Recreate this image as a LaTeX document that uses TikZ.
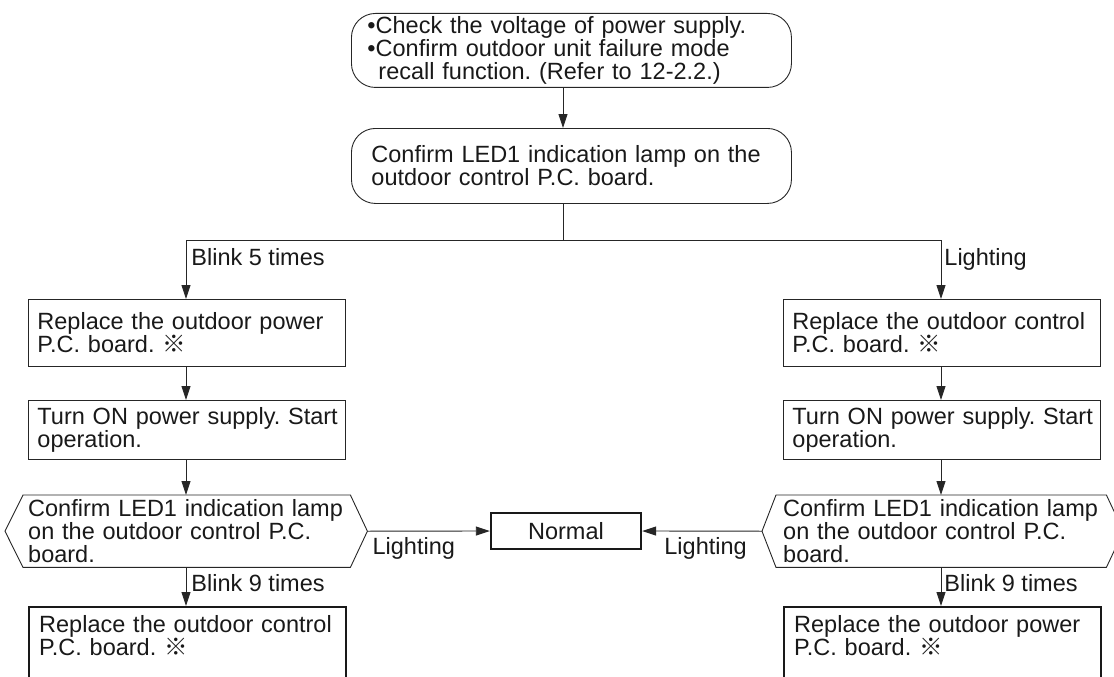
\documentclass[tikz,border=0pt]{standalone}
\usepackage{fontspec}
\setmainfont{Liberation Sans}
\newfontfamily\cjkfont{Noto Sans CJK JP}
\usetikzlibrary{arrows.meta,calc}
\newcommand{\refmark}{\smash{\cjkfont ※}}
\frenchspacing
\begin{document}
\begin{tikzpicture}[x=1pt,y=-1pt,
  txt/.style={font=\fontsize{23.5}{23}\selectfont\frenchspacing, text=black!90},
  thinl/.style={line width=0.9pt, draw=black!85},
  stepbox/.style={txt, thinl, draw, rectangle, anchor=north west, text width=299pt, inner xsep=9pt, inner ysep=0pt, minimum height=#1, align=left},
  thickbox/.style={txt, draw=black!90, line width=2.4pt, rectangle, anchor=north west, text width=297pt, inner xsep=10pt, inner ysep=8pt, align=left},
  roundbox/.style={txt, thinl, draw, rectangle, rounded corners=24pt, anchor=north west, inner ysep=0pt, minimum height=#1, align=left},
  hexbox/.style={txt, rectangle, anchor=north west, inner ysep=0pt, minimum height=72pt, align=left},
  arr/.style={thinl, -{Triangle[length=14pt,width=9pt]}},
  lbl/.style={txt, inner sep=0pt}
]
\useasboundingbox (0,0) rectangle (1114,677);
\clip (0,0) rectangle (1114,677);

% top boxes
\node[roundbox=74pt, text width=408pt, inner xsep=16pt] (top) at (351,13)
  {\mbox{•Check the voltage of power supply.}\\\mbox{•Confirm outdoor unit failure mode}\\\hspace*{11pt}\mbox{recall function. (Refer to 12-2.2.)}};
\node[roundbox=75pt, text width=400pt, inner xsep=20pt] (conf) at (351,128)
  {\mbox{Confirm LED1 indication lamp on the}\\\mbox{outdoor control P.C. board.}};

\draw[arr] (top.south -| 563,0) -- (conf.north -| 563,0);
\coordinate (split) at (563,240);
\coordinate (splitL) at (186,240);
\coordinate (splitR) at (941,240);
\draw[thinl] (conf.south -| split) -- (split);
\draw[thinl] (splitL) -- (splitR);

% left column
\node[stepbox=67pt] (L1) at (28,299) {\mbox{Replace the outdoor power}\\P.C. board. \refmark};
\node[stepbox=59pt] (L2) at (28,400) {\mbox{Turn ON power supply. Start}\\operation.};
\node[hexbox, text width=317pt, inner xsep=5pt] (hexL) at (23,495)
  {\mbox{Confirm LED1 indication lamp}\\\mbox{on the outdoor control P.C.}\\board.};
\coordinate (hexLl) at ($(hexL.west)+(-18,0)$);
\coordinate (hexLr) at ($(hexL.east)+(17,0)$);
\draw[thinl] (hexL.north west) -- (hexL.north east) -- (hexLr) -- (hexL.south east)
  -- (hexL.south west) -- (hexLl) -- cycle;
\node[thickbox, text depth=60pt] (L3) at (28,606) {\mbox{Replace the outdoor control}\\P.C. board. \refmark};

% right column
\node[stepbox=67pt] (R1) at (783,299) {\mbox{Replace the outdoor control}\\P.C. board. \refmark};
\node[stepbox=59pt] (R2) at (783,400) {\mbox{Turn ON power supply. Start}\\operation.};
\node[hexbox, text width=316pt, inner xsep=7pt] (hexR) at (776,495)
  {\mbox{Confirm LED1 indication lamp}\\\mbox{on the outdoor control P.C.}\\board.};
\coordinate (hexRl) at ($(hexR.west)+(-14,0)$);
\coordinate (hexRr) at ($(hexR.east)+(17,0)$);
\draw[thinl] (hexR.north west) -- (hexR.north east) -- (hexRr) -- (hexR.south east)
  -- (hexR.south west) -- (hexRl) -- cycle;
\node[thickbox, text depth=60pt] (R3) at (783,606) {\mbox{Replace the outdoor power}\\P.C. board. \refmark};

% normal
\node[txt, draw=black!90, line width=2.4pt, minimum width=150pt, minimum height=36pt, inner sep=0pt] (norm) at (566,531) {Normal};

% connectors left
\draw[arr] (splitL) -- node[lbl, pos=0.44, anchor=base west, xshift=5pt] {Blink 5 times} (L1.north -| splitL);
\draw[arr] (L1.south -| splitL) -- (L2.north -| splitL);
\draw[arr] (L2.south -| splitL) -- (hexL.north -| splitL);
\draw[arr] (hexL.south -| splitL) -- node[lbl, pos=0.62, anchor=base west, xshift=5pt] {Blink 9 times} (L3.north -| splitL);

% connectors right
\draw[arr] (splitR) -- node[lbl, pos=0.44, anchor=base west, xshift=3pt] {Lighting} (R1.north -| splitR);
\draw[arr] (R1.south -| splitR) -- (R2.north -| splitR);
\draw[arr] (R2.south -| splitR) -- (hexR.north -| splitR);
\draw[arr] (hexR.south -| splitR) -- node[lbl, pos=0.62, anchor=base west, xshift=3pt] {Blink 9 times} (R3.north -| splitR);

% to normal
\draw[arr] (hexLr) -- (norm.west);
\draw[arr] (hexRl) -- (norm.east);
\node[lbl, anchor=base west] (lgL) at ($(hexLr)+(5,23)$) {Lighting};
\node[lbl, anchor=base west] (lgR) at ($(norm.east)+(22,23)$) {Lighting};
\end{tikzpicture}
\end{document}
